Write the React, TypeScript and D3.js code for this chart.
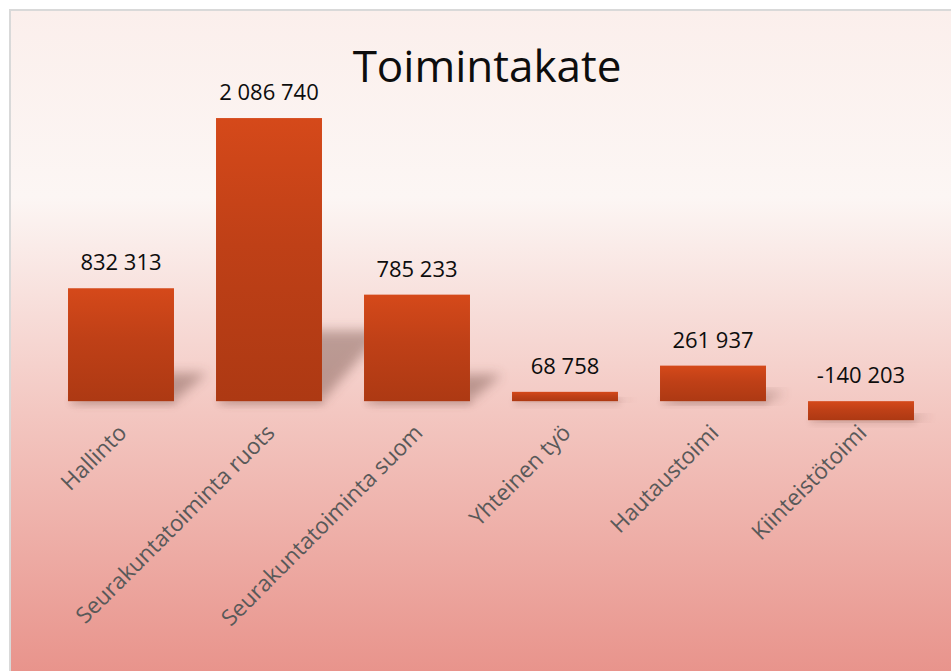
import React from "react";
import * as d3 from "d3";

const title = "Toimintakate";
const categories = [
  "Hallinto",
  "Seurakuntatoiminta ruots",
  "Seurakuntatoiminta suom",
  "Yhteinen työ",
  "Hautaustoimi",
  "Kiinteistötoimi",
];
const values = [832313, 2086740, 785233, 68758, 261937, -140203];

const W = 951;
const H = 671;
const FONT = "'Open Sans', 'Noto Sans', sans-serif";

const fiLocale = d3.formatLocale({
  decimal: ",",
  thousands: " ",
  grouping: [3],
  currency: ["", " €"],
  minus: "-",
});
const fmt = fiLocale.format(",d");

export default function App() {
  const x = d3
    .scaleBand<string>()
    .domain(categories)
    .range([47, 935])
    .paddingInner(0.284)
    .paddingOuter(0.142);
  const y = d3.scaleLinear().domain([-500000, 2500000]).range([469, 62]);
  const y0 = y(0);
  const bw = x.bandwidth();

  return (
    <svg
      width={W}
      height={H}
      style={{ position: "absolute", left: 0, top: 0, display: "block" }}
    >
      <defs>
        <linearGradient id="bg" gradientUnits="userSpaceOnUse" x1="0" y1="10" x2="0" y2="680">
          <stop offset="0" stopColor="#fbefec" />
          <stop offset="0.28" stopColor="#fcf6f4" />
          <stop offset="0.6" stopColor="#f3c7c1" />
          <stop offset="1" stopColor="#e8928a" />
        </linearGradient>
        <linearGradient id="barg" x1="0" y1="0" x2="0" y2="1">
          <stop offset="0" stopColor="#d5491a" />
          <stop offset="0.45" stopColor="#bf4017" />
          <stop offset="1" stopColor="#ad3913" />
        </linearGradient>
        <filter id="blur" x="-50%" y="-50%" width="200%" height="200%">
          <feGaussianBlur stdDeviation="6" />
        </filter>
        <filter id="blur2" x="-50%" y="-50%" width="200%" height="200%">
          <feGaussianBlur stdDeviation="3" />
        </filter>
      </defs>

      <rect x={10} y={10} width={W + 20} height={H + 20} fill="url(#bg)" stroke="#d9d9d9" strokeWidth={2} />

      <text
        x={487}
        y={82}
        textAnchor="middle"
        fontFamily={FONT}
        fontSize={44}
        fill="#0d0d0d"
      >
        {title}
      </text>

      {/* shadows */}
      {categories.map((c, i) => {
        const v = values[i];
        const x0 = x(c)!;
        const x1 = x0 + bw;
        const top = Math.min(y(v), y0);
        const bottom = Math.max(y(v), y0);
        const h = bottom - top;
        const dx = 0.17 * h + 14;
        const dy = 0.25 * h;
        const pts = [
          [x0 + 4, bottom],
          [x1, bottom],
          [x1 + dx, bottom - dy],
          [x0 + dx, bottom - dy],
        ]
          .map((p) => p.join(","))
          .join(" ");
        return (
          <g key={"s" + i}>
            <polygon points={pts} fill="#5d3a33" opacity={0.38} filter="url(#blur)" />
            <rect x={x0 + 2} y={bottom - 2} width={bw} height={6} fill="#7a4a40" opacity={0.18} filter="url(#blur2)" />
          </g>
        );
      })}

      {/* bars */}
      {categories.map((c, i) => {
        const v = values[i];
        const top = Math.min(y(v), y0);
        const bottom = Math.max(y(v), y0);
        return (
          <rect
            key={"b" + i}
            x={x(c)!}
            y={top}
            width={bw}
            height={bottom - top}
            fill="url(#barg)"
          />
        );
      })}

      {/* value labels */}
      {categories.map((c, i) => {
        const v = values[i];
        return (
          <text
            key={"v" + i}
            x={x(c)! + bw / 2}
            y={Math.min(y(v), y0) - 18}
            textAnchor="middle"
            fontFamily={FONT}
            fontSize={22}
            fill="#0d0d0d"
          >
            {fmt(v)}
          </text>
        );
      })}

      {/* category labels */}
      {categories.map((c, i) => {
        const cx = x(c)! + bw / 2;
        return (
          <text
            key={"c" + i}
            transform={`translate(${cx + 7},${y0 + 33}) rotate(-45)`}
            textAnchor="end"
            fontFamily={FONT}
            fontSize={22.5}
            fill="#595959"
          >
            {c}
          </text>
        );
      })}
    </svg>
  );
}
